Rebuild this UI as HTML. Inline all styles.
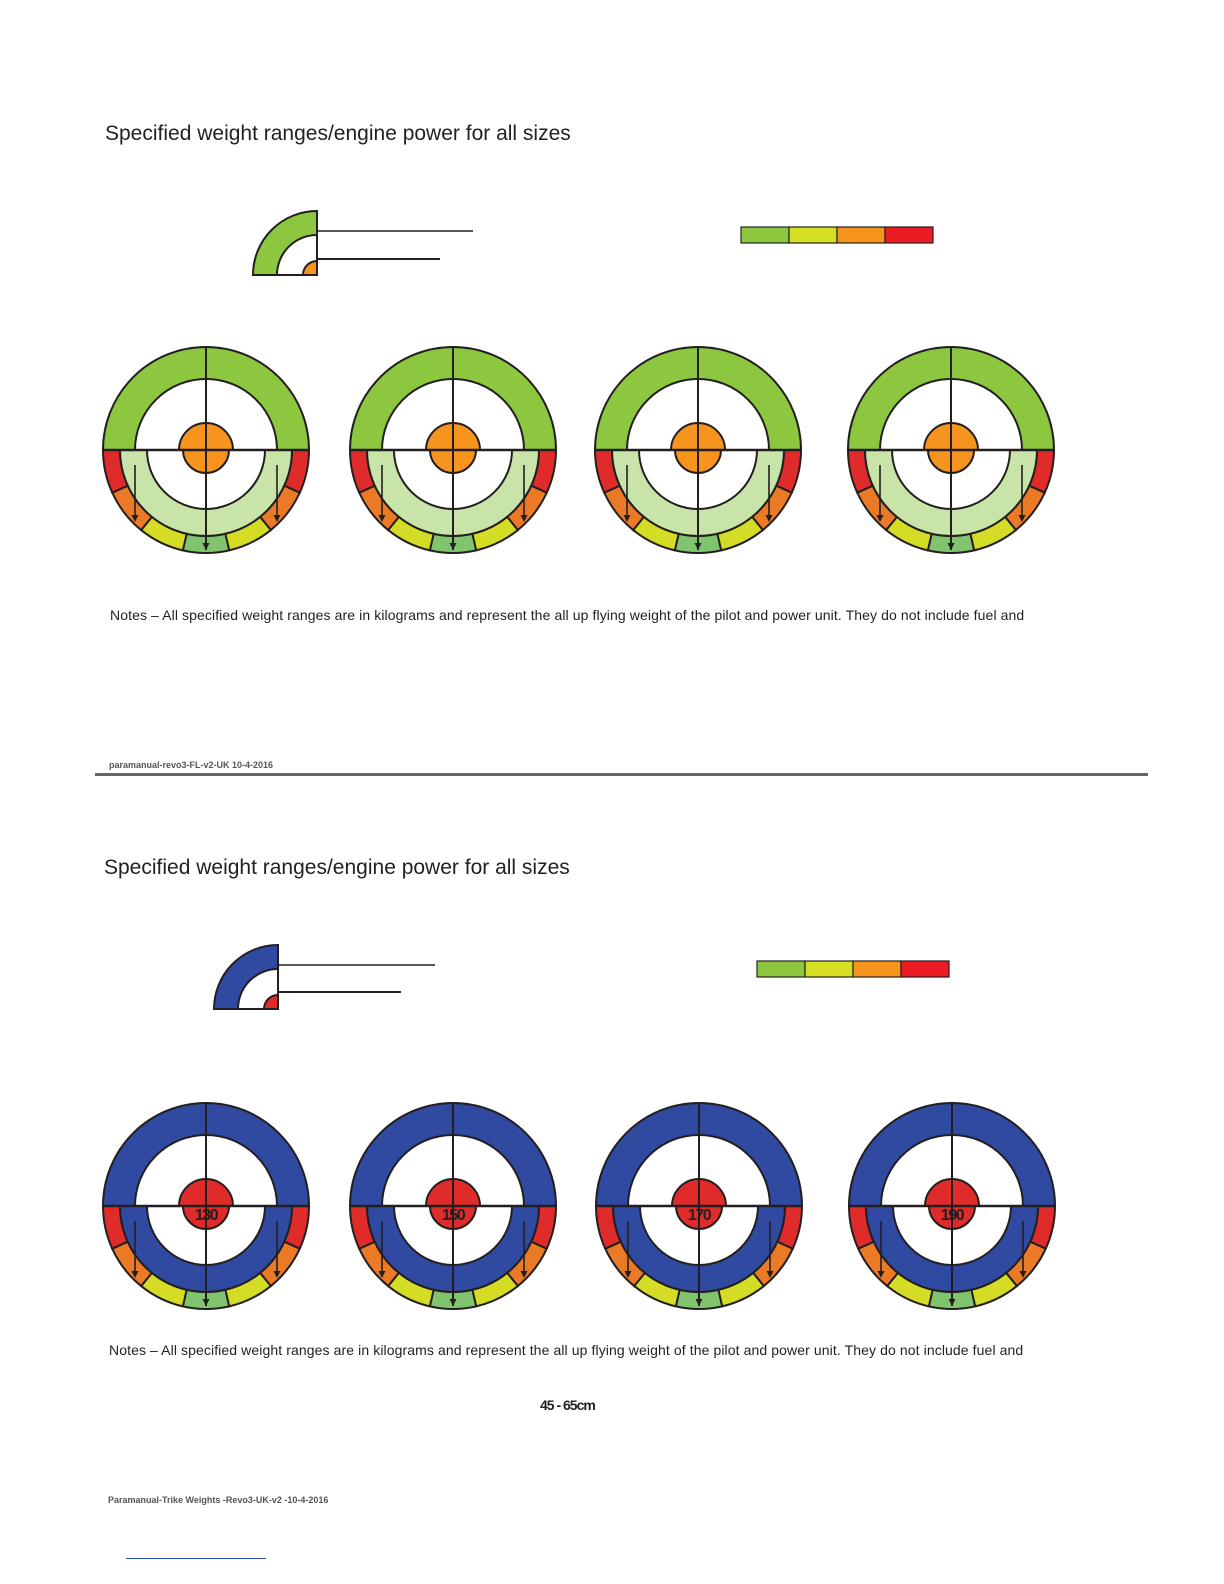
<!DOCTYPE html>
<html><head><meta charset="utf-8"><style>
html,body{margin:0;padding:0;background:#fff;}
body{width:1224px;height:1584px;position:relative;overflow:hidden;font-family:"Liberation Sans",sans-serif;}
.t{position:absolute;color:#231f20;white-space:nowrap;}
</style></head><body>
<div class="t" style="left:105px;top:122px;font-size:21px;">Specified weight ranges/engine power for all sizes</div>
<div class="t" style="left:104px;top:856px;font-size:21px;">Specified weight ranges/engine power for all sizes</div>
<div class="t" style="left:110px;top:607px;font-size:14px;letter-spacing:0.1px;">Notes – All specified weight ranges are in kilograms and represent the all up flying weight of the pilot and power unit. They do not include fuel and</div>
<div class="t" style="left:109px;top:1342px;font-size:14px;letter-spacing:0.1px;">Notes – All specified weight ranges are in kilograms and represent the all up flying weight of the pilot and power unit. They do not include fuel and</div>
<div class="t" style="left:109px;top:760px;font-size:9px;font-weight:bold;color:#555;">paramanual-revo3-FL-v2-UK 10-4-2016</div>
<div class="t" style="left:108px;top:1495px;font-size:9px;font-weight:bold;color:#555;">Paramanual-Trike Weights -Revo3-UK-v2 -10-4-2016</div>
<div class="t" style="left:540px;top:1397px;font-size:14px;font-weight:bold;letter-spacing:-1px;">45 - 65cm</div>
<div style="position:absolute;left:95px;top:773px;width:1053px;height:3px;background:#666;"></div>
<div style="position:absolute;left:126px;top:1558px;width:140px;height:1px;background:#3050c0;"></div>
<svg id="s" width="1224" height="1584" style="position:absolute;left:0;top:0;"></svg>
<script>
var s='';
function P(cx,cy,r,d){var a=d*Math.PI/180;return (cx+r*Math.cos(a)).toFixed(2)+' '+(cy+r*Math.sin(a)).toFixed(2);}
function sec(cx,cy,r1,r2,a1,a2,f){
 var lg=(a2-a1)>180?1:0;
 var d='M'+P(cx,cy,r2,a1)+' A'+r2+' '+r2+' 0 '+lg+' 1 '+P(cx,cy,r2,a2);
 if(r1>0){d+=' L'+P(cx,cy,r1,a2)+' A'+r1+' '+r1+' 0 '+lg+' 0 '+P(cx,cy,r1,a1)+' Z';}
 else d+=' L'+cx+' '+cy+' Z';
 s+='<path d="'+d+'" fill="'+f+'" stroke="#231f20" stroke-width="2"/>';
}
function circ(cx,cy,top,mid,ctr,label){
 sec(cx,cy,71,103,180,360,top);
 var R='#e02b2b',O='#ea7a26',Y='#d4dc26',G='#80c56e';
 var b=[[0,24.5,R],[24.5,51,O],[51,77,Y],[77,103,G],[103,129,Y],[129,155.5,O],[155.5,180,R]];
 b.forEach(function(x){sec(cx,cy,86,103,x[0],x[1],x[2]);});
 sec(cx,cy,59,86,0,180,mid);
 sec(cx,cy,0,27,180,360,ctr);
 sec(cx,cy,0,23,0,180,ctr);
 s+='<line x1="'+(cx-103)+'" y1="'+cy+'" x2="'+(cx+103)+'" y2="'+cy+'" stroke="#231f20" stroke-width="2.5"/>';
 s+='<line x1="'+cx+'" y1="'+(cy-103)+'" x2="'+cx+'" y2="'+(cy+100)+'" stroke="#231f20" stroke-width="2"/>';
 [[-71,15,72],[71,15,72],[0,0,100]].forEach(function(a){
  var x=cx+a[0];s+='<line x1="'+x+'" y1="'+(cy+a[1])+'" x2="'+x+'" y2="'+(cy+a[2]-5)+'" stroke="#231f20" stroke-width="1.6"/>';
  s+='<path d="M'+(x-3.5)+' '+(cy+a[2]-7)+' L'+(x+3.5)+' '+(cy+a[2]-7)+' L'+x+' '+(cy+a[2])+' Z" fill="#231f20"/>';
 });
 if(label)s+='<text x="'+cx+'" y="'+(cy+14)+'" text-anchor="middle" font-family="Liberation Sans,sans-serif" font-weight="bold" font-size="16" letter-spacing="-1.5" fill="#231f20">'+label+'</text>';
}
[206,453,698,951].forEach(function(x){circ(x,450,'#8dc63f','#c8e4a8','#f7941d');});
[[206,'130'],[453,'150'],[699,'170'],[952,'190']].forEach(function(x){circ(x[0],1206,'#2f4aa0','#2f4aa0','#e02b2b',x[1]);});
function leg(cx,cy,col,ctr,l1,l2,y1,y2){
 sec(cx,cy,40,64,180,270,col);sec(cx,cy,0,14,180,270,ctr);
 s+='<line x1="'+cx+'" y1="'+(cy-64)+'" x2="'+cx+'" y2="'+cy+'" stroke="#231f20" stroke-width="2"/>';
 s+='<line x1="'+(cx-64)+'" y1="'+cy+'" x2="'+cx+'" y2="'+cy+'" stroke="#231f20" stroke-width="2"/>';
 s+='<line x1="'+cx+'" y1="'+y1+'" x2="'+l1+'" y2="'+y1+'" stroke="#231f20" stroke-width="1.5"/>';
 s+='<line x1="'+cx+'" y1="'+y2+'" x2="'+l2+'" y2="'+y2+'" stroke="#231f20" stroke-width="2"/>';
}
leg(317,275,'#8dc63f','#f7941d',473,440,231,259);
leg(278,1009,'#2f4aa0','#e02b2b',435,401,965,992);
function bar(x,y){['#8dc63f','#d7df23','#f7941d','#ed1c24'].forEach(function(c,i){s+='<rect x="'+(x+i*48)+'" y="'+y+'" width="48" height="16" fill="'+c+'" stroke="#231f20" stroke-width="1.2"/>';});}
bar(741,227);bar(757,961);
document.getElementById('s').innerHTML=s;
</script>
</body></html>
